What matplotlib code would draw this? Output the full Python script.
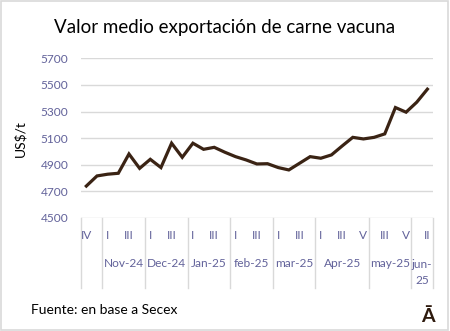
import numpy as np
import matplotlib
matplotlib.use("Agg")
import matplotlib.pyplot as plt
from matplotlib.patches import Rectangle

# weekly export values (US$/t), Oct-24 week IV .. Jun-25 week II
weeks = ["IV", "V",
         "I", "II", "III", "IV",
         "I", "II", "III", "IV",
         "I", "II", "III", "IV",
         "I", "II", "III", "IV",
         "I", "II", "III", "IV",
         "I", "II", "III", "IV", "V",
         "II", "III", "IV", "V",
         "I", "II"]
values = [4740, 4816, 4829, 4836, 4981, 4873, 4941, 4879, 5062, 4956,
          5062, 5016, 5031, 4994, 4961, 4936, 4906, 4908, 4879, 4861,
          4911, 4961, 4949, 4974, 5041, 5106, 5094, 5106, 5132, 5330,
          5295, 5370, 5468]
months = ["", "Nov-24", "Dec-24", "Jan-25", "feb-25", "mar-25", "Apr-25", "may-25", "jun-\n25"]
month_sizes = [2, 4, 4, 4, 4, 4, 5, 4, 2]
yticks = [4500, 4700, 4900, 5100, 5300, 5500, 5700]

plt.rcParams['font.family'] = ['Lato', 'DejaVu Sans']
tick_color = '#62629a'
grid_color = '#d9d9d9'
tick_fs = 8.6

fig = plt.figure(figsize=(4.5, 3.31), dpi=100)
ax = fig.add_axes([0.18, 0.3414, 0.7816, 0.4825])

x = np.arange(len(values))
ax.plot(x, values, color='#3a2314', lw=2.3, solid_joinstyle='miter', zorder=3)

ax.set_xlim(-0.5, len(values) - 0.5)
ax.set_ylim(yticks[0], yticks[-1])
ax.set_yticks(yticks)
ax.set_yticklabels([str(t) for t in yticks], color=tick_color, fontsize=tick_fs)
ax.tick_params(axis='y', length=0, pad=9)
ax.set_xticks([])
for s in ax.spines.values():
    s.set_visible(False)
ax.grid(axis='y', color=grid_color, lw=1)
ax.set_axisbelow(True)

# two-level category axis
tr = ax.get_xaxis_transform()
for i, w in enumerate(weeks):
    if i % 2 == 0:
        ax.text(i, -0.111, w, transform=tr, ha='center', va='center',
                color=tick_color, fontsize=tick_fs)
edges = np.concatenate([[0], np.cumsum(month_sizes)]) - 0.5
for e in edges:
    ax.plot([e, e], [0, -0.44], transform=tr, color=grid_color, lw=1, clip_on=False)
for m, a, b in zip(months, edges[:-1], edges[1:]):
    if "\n" in m:
        ax.text((a + b) / 2, -0.34, m, transform=tr, ha='center', va='center',
                color=tick_color, fontsize=tick_fs, linespacing=1.5)
    else:
        ax.text((a + b) / 2, -0.284, m, transform=tr, ha='center', va='center',
                color=tick_color, fontsize=tick_fs)

ax.set_ylabel("US$/t", fontsize=10, color='black', labelpad=10)

fig.text(0.5, 0.918, "Valor medio exportación de carne vacuna", ha='center', va='center',
         fontsize=13.5, color='black')
fig.text(0.068, 0.063, "Fuente: en base a Secex", ha='left', va='center', fontsize=10, color='black')
fig.text(0.95, 0.045, "Ā", ha='center', va='center', fontsize=14, fontweight='bold', color='#2e1a0e')

fig.patches.append(Rectangle((0.002, 0.004), 0.994, 0.992, transform=fig.transFigure,
                             fill=False, edgecolor=grid_color, lw=1.2))

fig.savefig("out.png", dpi=100)
